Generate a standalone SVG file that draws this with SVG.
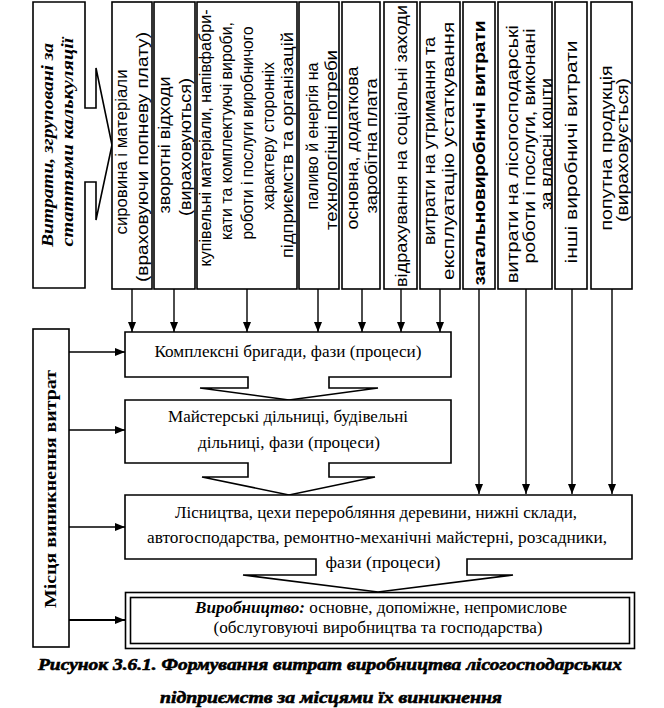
<svg xmlns="http://www.w3.org/2000/svg" width="664" height="708" viewBox="0 0 664 708">
<style>
.sh{fill:#fff;stroke:#000;stroke-width:1.6;stroke-linejoin:miter}
.ln{fill:none;stroke:#000;stroke-width:1.4}
.vt{font-family:"Liberation Sans",Arial,sans-serif;font-size:16px;fill:#000;text-anchor:middle}
.bt{font-family:"Liberation Serif","Times New Roman",serif;font-size:17px;fill:#000;text-anchor:middle}
.ttl{font-family:"Liberation Serif","Times New Roman",serif;font-size:17px;font-weight:bold;font-style:italic;fill:#000;text-anchor:middle}
.cap{font-family:"Liberation Serif","Times New Roman",serif;font-size:17px;font-weight:bold;font-style:italic;fill:#000;stroke:#000;stroke-width:0.6;text-anchor:middle}
</style>
<defs>
<marker id="ah" markerUnits="userSpaceOnUse" markerWidth="10" markerHeight="10" viewBox="0 0 10 10" refX="10" refY="5" orient="auto">
<path d="M0,1 L10,5 L0,9 Z" fill="#000"/>
</marker>
</defs>
<rect width="664" height="708" fill="#fff"/>

<g id="title">
<path class="sh" d="M33,2 H85 V108 H96 V68 L112,145 L96,220 V182 H85 V288 H33 Z"/>
<text class="ttl" transform="translate(48,145) rotate(-90)" y="5" textLength="204" lengthAdjust="spacingAndGlyphs">Витрати, згруповані за</text>
<text class="ttl" transform="translate(68,142) rotate(-90)" y="5" textLength="209" lengthAdjust="spacingAndGlyphs">статтями калькуляції</text>
</g>

<g id="c1">
<rect class="sh" x="112" y="2" width="40" height="287"/>
<text class="vt" transform="translate(122,152) rotate(-90)" y="5" textLength="165" lengthAdjust="spacingAndGlyphs">сировина і матеріали</text>
<text class="vt" transform="translate(143,157) rotate(-90)" y="5" textLength="250" lengthAdjust="spacingAndGlyphs">(враховуючи попневу плату)</text>
</g>
<g id="c2">
<rect class="sh" x="154" y="2" width="41" height="287"/>
<text class="vt" transform="translate(165,145) rotate(-90)" y="5" textLength="137" lengthAdjust="spacingAndGlyphs">зворотні відходи</text>
<text class="vt" transform="translate(186,147) rotate(-90)" y="5" textLength="138" lengthAdjust="spacingAndGlyphs">(вираховуються)</text>
</g>
<g id="c3">
<rect class="sh" x="197" y="2" width="100" height="287"/>
<text class="vt" transform="translate(206,138) rotate(-90)" y="5" textLength="257" lengthAdjust="spacingAndGlyphs">купівельні матеріали, напівфабри-</text>
<text class="vt" transform="translate(227,131) rotate(-90)" y="5" textLength="218" lengthAdjust="spacingAndGlyphs">кати та комплектуючі вироби,</text>
<text class="vt" transform="translate(248,133) rotate(-90)" y="5" textLength="213" lengthAdjust="spacingAndGlyphs">роботи і послуги виробничого</text>
<text class="vt" transform="translate(269,136) rotate(-90)" y="5" textLength="148" lengthAdjust="spacingAndGlyphs">характеру сторонніх</text>
<text class="vt" transform="translate(288,145) rotate(-90)" y="5" textLength="226" lengthAdjust="spacingAndGlyphs">підприємств та організацій</text>
</g>
<g id="c4">
<rect class="sh" x="299" y="2" width="40" height="287"/>
<text class="vt" transform="translate(313,136) rotate(-90)" y="5" textLength="147" lengthAdjust="spacingAndGlyphs">паливо й енергія на</text>
<text class="vt" transform="translate(332,140) rotate(-90)" y="5" textLength="180" lengthAdjust="spacingAndGlyphs">технологічні потреби</text>
</g>
<g id="c5">
<rect class="sh" x="342" y="2" width="38" height="287"/>
<text class="vt" transform="translate(353,148) rotate(-90)" y="5" textLength="163" lengthAdjust="spacingAndGlyphs">основна, додаткова</text>
<text class="vt" transform="translate(372,146) rotate(-90)" y="5" textLength="135" lengthAdjust="spacingAndGlyphs">заробітна плата</text>
</g>
<g id="c6">
<rect class="sh" x="384" y="2" width="33" height="287"/>
<text class="vt" transform="translate(402,146) rotate(-90)" y="5" textLength="282" lengthAdjust="spacingAndGlyphs">відрахування на соціальні заходи</text>
</g>
<g id="c7">
<rect class="sh" x="420" y="2" width="40" height="287"/>
<text class="vt" transform="translate(430,141) rotate(-90)" y="5" textLength="208" lengthAdjust="spacingAndGlyphs">витрати на утримання та</text>
<text class="vt" transform="translate(449,151) rotate(-90)" y="5" textLength="258" lengthAdjust="spacingAndGlyphs">експлуатацію устаткування</text>
</g>
<g id="c8">
<rect class="sh" x="463" y="2" width="32" height="287"/>
<text class="vt" transform="translate(480,153) rotate(-90)" y="5" font-weight="bold" textLength="265" lengthAdjust="spacingAndGlyphs">загальновиробничі витрати</text>
</g>
<g id="c9">
<rect class="sh" x="498" y="2" width="54" height="287"/>
<text class="vt" transform="translate(513,154) rotate(-90)" y="5" textLength="258" lengthAdjust="spacingAndGlyphs">витрати на лісогосподарські</text>
<text class="vt" transform="translate(530,146) rotate(-90)" y="5" textLength="235" lengthAdjust="spacingAndGlyphs">роботи і послуги, виконані</text>
<text class="vt" transform="translate(547,144) rotate(-90)" y="5" textLength="132" lengthAdjust="spacingAndGlyphs">за власні кошти</text>
</g>
<g id="c10">
<rect class="sh" x="555" y="2" width="32" height="287"/>
<text class="vt" transform="translate(572,152) rotate(-90)" y="5" textLength="223" lengthAdjust="spacingAndGlyphs">інші виробничі витрати</text>
</g>
<g id="c11">
<rect class="sh" x="591" y="2" width="41" height="287"/>
<text class="vt" transform="translate(607,148) rotate(-90)" y="5" textLength="165" lengthAdjust="spacingAndGlyphs">попутна продукція</text>
<text class="vt" transform="translate(623,150) rotate(-90)" y="5" textLength="144" lengthAdjust="spacingAndGlyphs">(вираховується)</text>
</g>

<g id="places">
<rect class="sh" x="33" y="329" width="36" height="318"/>
<text class="bt" transform="translate(50,489) rotate(-90)" y="6" font-weight="bold" font-size="18" textLength="238" lengthAdjust="spacingAndGlyphs">Місця виникнення витрат</text>
</g>

<g id="b1">
<path class="sh" d="M125,332 H451 V377 H329 V388 H378 L289,400 L200,388 H248 V377 H125 Z"/>
<text class="bt" x="288" y="357" textLength="267" lengthAdjust="spacingAndGlyphs">Комплексні бригади, фази (процеси)</text>
</g>
<g id="b2">
<path class="sh" d="M125,400 H451 V463 H329 V477 H375 L289,495 L202,477 H248 V463 H125 Z"/>
<text class="bt" x="288" y="422" textLength="240" lengthAdjust="spacingAndGlyphs">Майстерські дільниці, будівельні</text>
<text class="bt" x="289" y="448" textLength="182" lengthAdjust="spacingAndGlyphs">дільниці, фази (процеси)</text>
</g>
<g id="b3">
<path class="sh" d="M125,495 H632 V559 H467 V575 H513 L378,592 L243,575 H316 V559 H125 Z"/>
<text class="bt" x="376" y="518" textLength="402" lengthAdjust="spacingAndGlyphs">Лісництва, цехи переробляння деревини, нижні склади,</text>
<text class="bt" x="377" y="543" textLength="460" lengthAdjust="spacingAndGlyphs">автогосподарства, ремонтно-механічні майстерні, розсадники,</text>
<text class="bt" x="383" y="568" textLength="115" lengthAdjust="spacingAndGlyphs">фази (процеси)</text>
</g>
<g id="b4">
<rect class="sh" x="125.5" y="592.5" width="509" height="56"/>
<rect class="sh" x="130.5" y="597.5" width="499" height="46"/>
<text class="bt" x="381" y="613" textLength="372" lengthAdjust="spacingAndGlyphs"><tspan font-weight="bold" font-style="italic">Виробництво:</tspan> основне, допоміжне, непромислове</text>
<text class="bt" x="378" y="633" textLength="329" lengthAdjust="spacingAndGlyphs">(обслуговуючі виробництва та господарства)</text>
</g>

<g id="connectors" class="ln" marker-end="url(#ah)">
<line x1="132" y1="289" x2="132" y2="332"/>
<line x1="174" y1="289" x2="174" y2="332"/>
<line x1="247" y1="289" x2="247" y2="332"/>
<line x1="318" y1="289" x2="318" y2="332"/>
<line x1="362" y1="289" x2="362" y2="332"/>
<line x1="401" y1="289" x2="401" y2="332"/>
<line x1="440" y1="289" x2="440" y2="332"/>
<line x1="479" y1="289" x2="479" y2="494"/>
<line x1="526" y1="289" x2="526" y2="494"/>
<line x1="572" y1="289" x2="572" y2="494"/>
<line x1="612" y1="289" x2="612" y2="494"/>
<line x1="69" y1="352" x2="125" y2="352"/>
<line x1="69" y1="430" x2="125" y2="430"/>
<line x1="69" y1="527" x2="125" y2="527"/>
<line x1="69" y1="620" x2="125" y2="620" stroke-width="2.2"/>
</g>

<g id="caption">
<text class="cap" x="330" y="670" textLength="584" lengthAdjust="spacingAndGlyphs">Рисунок 3.6.1. Формування витрат виробництва лісогосподарських</text>
<text class="cap" x="331" y="703" textLength="342" lengthAdjust="spacingAndGlyphs">підприємств за місцями їх виникнення</text>
</g>
</svg>
